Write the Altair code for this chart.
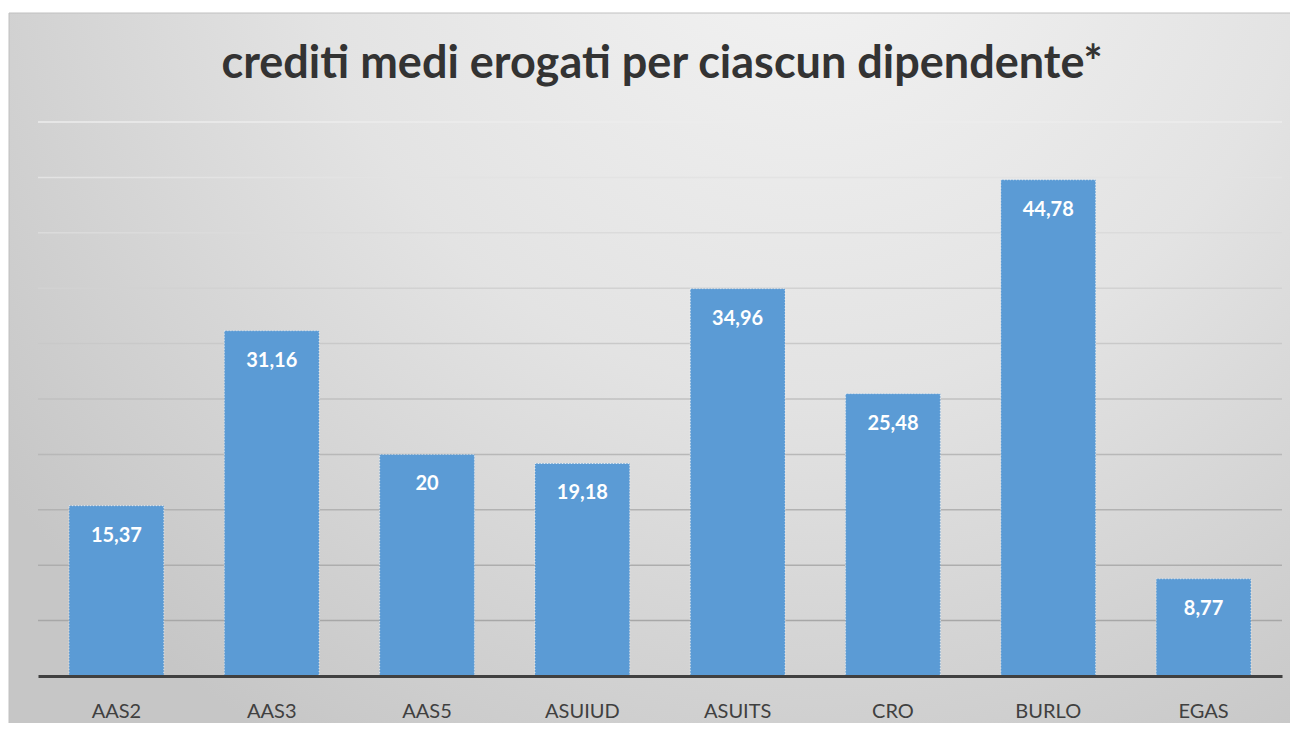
import altair as alt
import pandas as pd

categories = ["AAS2", "AAS3", "AAS5", "ASUIUD", "ASUITS", "CRO", "BURLO", "EGAS"]
values = [15.37, 31.16, 20, 19.18, 34.96, 25.48, 44.78, 8.77]
grid_values = [0, 5, 10, 15, 20, 25, 30, 35, 40, 45, 50]
title_text = "crediti medi erogati per ciascun dipendente*"

labels = [f"{v:g}".replace(".", ",") for v in values]
df = pd.DataFrame({"cat": categories, "val": values, "lab": labels})
gdf = pd.DataFrame({"g": grid_values[1:]})
tdf = pd.DataFrame({"t": [title_text]})

W, H = 1244, 554

bg = alt.Chart(tdf).mark_rect(
    fill={
        "gradient": "radial",
        "x1": 0.62, "y1": 0.12, "r1": 0,
        "x2": 0.62, "y2": 0.12, "r2": 0.78,
        "stops": [
            {"offset": 0, "color": "#f4f4f4"},
            {"offset": 0.5, "color": "#e3e3e3"},
            {"offset": 1, "color": "#c6c6c6"},
        ],
    },
    stroke="#c0c0c0",
    strokeWidth=1,
).encode(
    x=alt.value(-29), x2=alt.value(1260),
    y=alt.value(-109), y2=alt.value(620),
)

grid = alt.Chart(gdf).mark_rule(strokeWidth=1.5).encode(
    y=alt.Y("g:Q", scale=alt.Scale(domain=[0, 50], nice=False), axis=None),
    color=alt.Color(
        "g:Q",
        scale=alt.Scale(domain=[0, 20, 35, 50],
                        range=["#a2a2a2", "#b8b8b8", "#d2d2d2", "#ececec"]),
        legend=None,
    ),
)

xenc = alt.X(
    "cat:N", sort=categories,
    scale=alt.Scale(paddingInner=0.39, paddingOuter=0.2),
    axis=alt.Axis(
        title=None, labelAngle=0, ticks=False, domainWidth=3,
        domainColor="#404040", labelColor="#404040", labelFontSize=20,
        labelFont="Lato", labelPadding=25, zindex=1, grid=False,
    ),
)
yenc = alt.Y("val:Q", scale=alt.Scale(domain=[0, 50], nice=False), axis=None)

bars = alt.Chart(df).mark_bar(
    color="#5b9bd5", stroke="#ffffff", strokeWidth=1,
    strokeDash=[1, 2], strokeOpacity=0.7,
).encode(x=xenc, y=yenc)

text = alt.Chart(df).mark_text(
    color="white", font="Lato", fontWeight="bold", fontSize=20,
    baseline="alphabetic", dy=36,
).encode(x=xenc, y=yenc, text="lab:N")

title = alt.Chart(tdf).mark_text(
    font="Lato", fontWeight="bold", fontSize=45, color="#333333",
    baseline="alphabetic", align="center",
).encode(x=alt.value(W / 2 + 2), y=alt.value(-44), text="t:N")

chart = alt.layer(bg, grid, bars, text, title).properties(
    width=W, height=H,
    autosize=alt.AutoSizeParams(type="none"),
    padding={"left": 30, "top": 114, "right": 8, "bottom": 47},
    background="white",
).configure_view(stroke=None)

chart.save("out.html", embed_options={"renderer": "svg", "actions": False})
